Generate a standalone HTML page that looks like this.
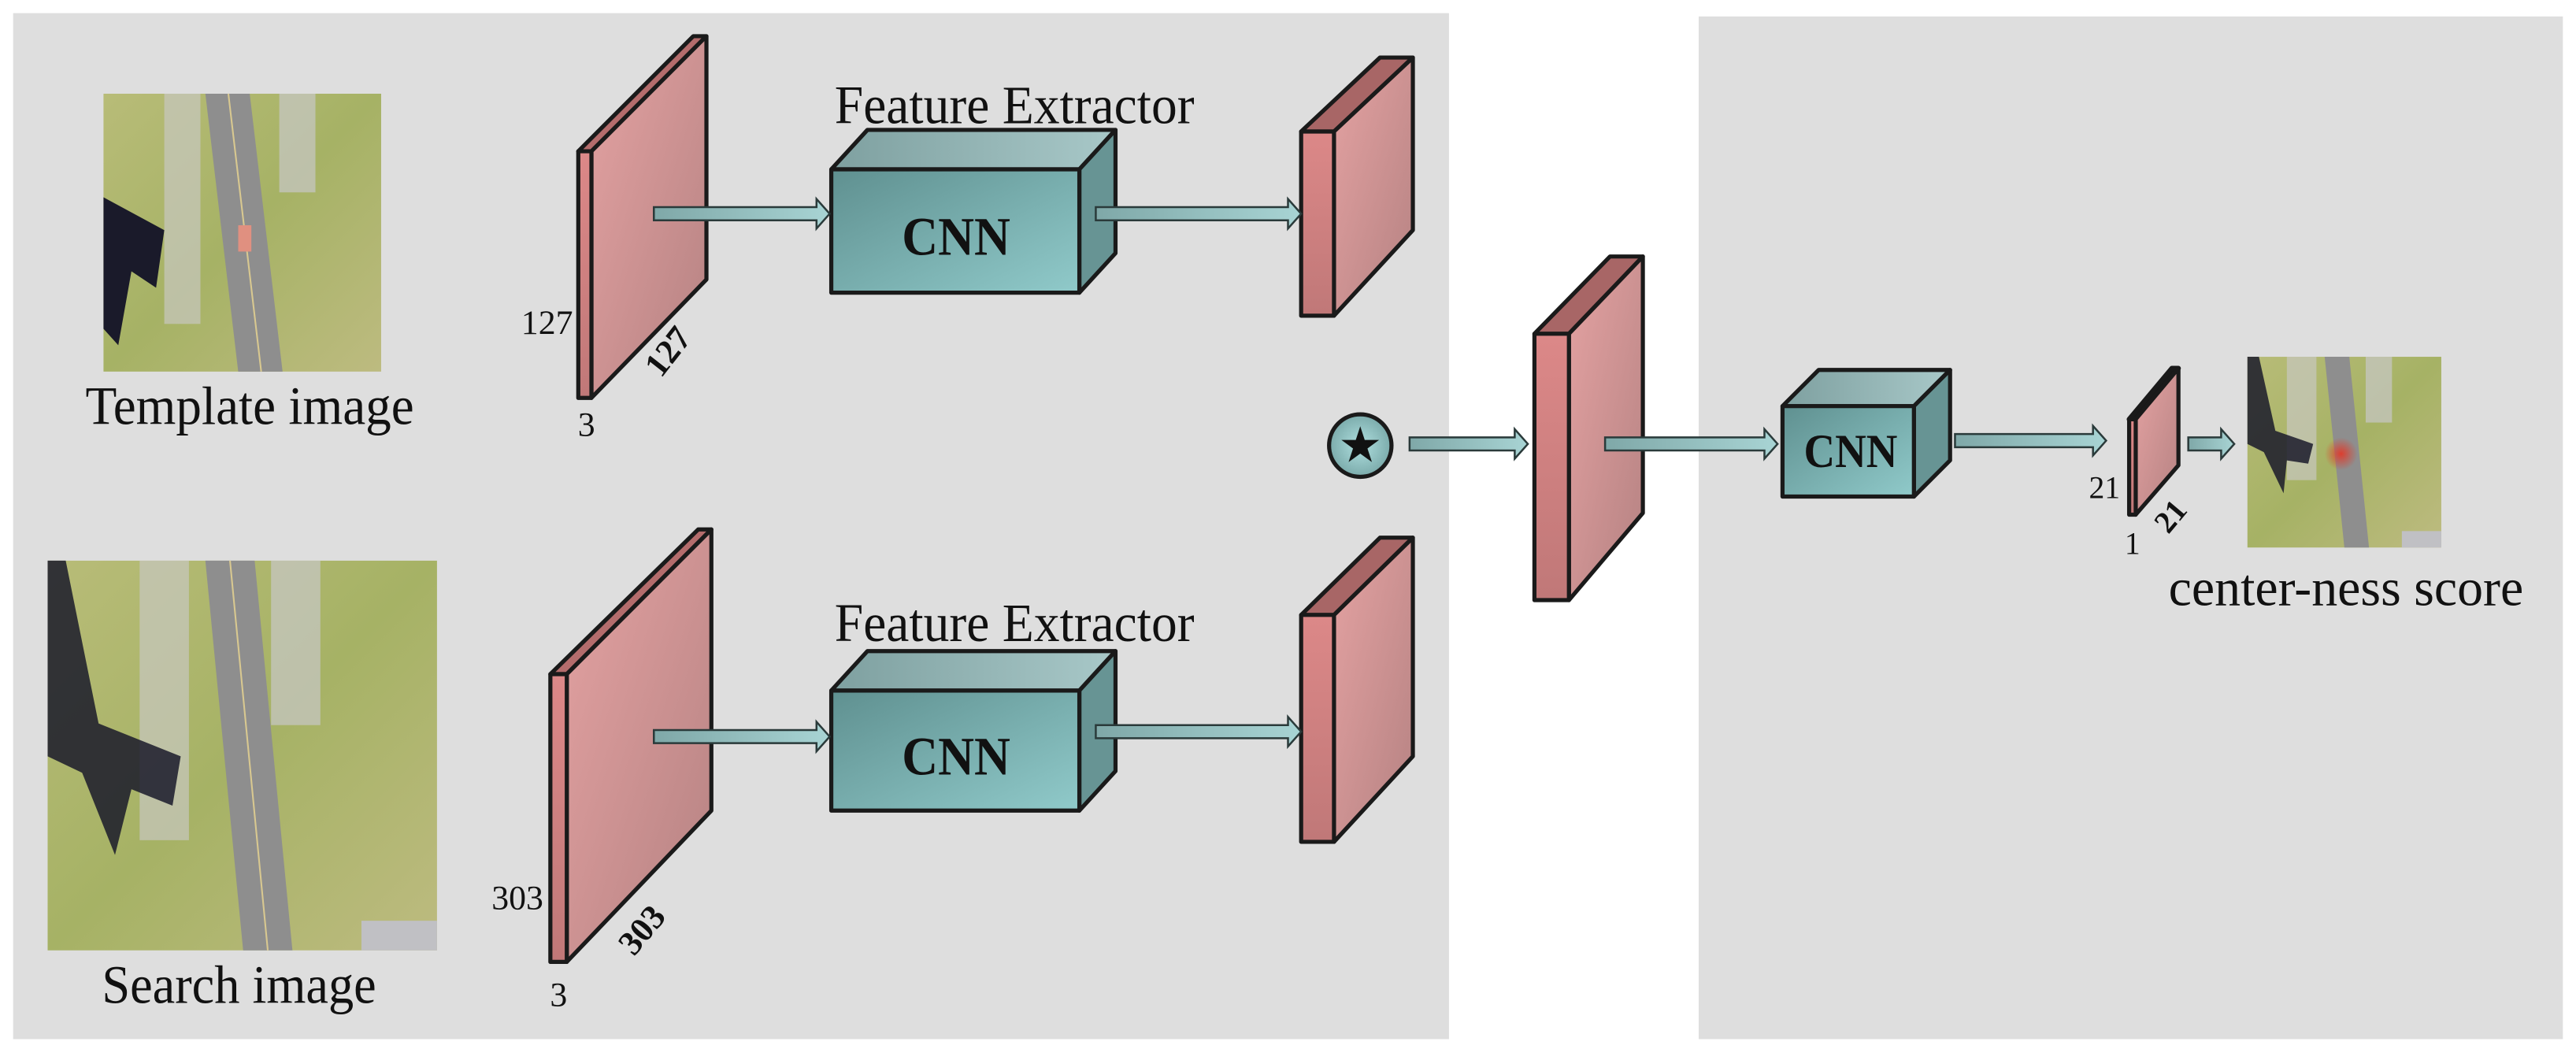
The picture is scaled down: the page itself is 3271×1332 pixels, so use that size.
<!DOCTYPE html>
<html><head><meta charset="utf-8"><style>
html,body{margin:0;padding:0;background:#fff;}
svg{display:block;}
text{font-family:"Liberation Serif",serif;fill:#111;}
</style></head><body>
<svg width="3271" height="1332" viewBox="0 0 1568 638" preserveAspectRatio="none" xmlns="http://www.w3.org/2000/svg">
<defs>
<linearGradient id="face" x1="0" y1="0" x2="1" y2="1"><stop offset="0" stop-color="#e4a2a2"/><stop offset="1" stop-color="#b58282"/></linearGradient>
<linearGradient id="front" x1="0" y1="0" x2="0" y2="1"><stop offset="0" stop-color="#dc8888"/><stop offset="1" stop-color="#c07878"/></linearGradient>
<linearGradient id="cnnf" x1="0" y1="0" x2="1" y2="1"><stop offset="0" stop-color="#5f9090"/><stop offset="1" stop-color="#90caca"/></linearGradient>
<linearGradient id="cnnt" x1="0" y1="0" x2="1" y2="0"><stop offset="0" stop-color="#7ea0a0"/><stop offset="1" stop-color="#a8c8c8"/></linearGradient>
<linearGradient id="arr" x1="0" y1="0" x2="1" y2="0"><stop offset="0" stop-color="#7fa8a8"/><stop offset="1" stop-color="#a8d4d4"/></linearGradient>
<radialGradient id="star" cx="0.5" cy="0.5" r="0.6"><stop offset="0" stop-color="#b0e0e0"/><stop offset="1" stop-color="#70a0a0"/></radialGradient>
<radialGradient id="blob"><stop offset="0" stop-color="#e03a2a" stop-opacity="0.95"/><stop offset="1" stop-color="#e03a2a" stop-opacity="0"/></radialGradient>
<linearGradient id="grass" x1="0" y1="0" x2="1" y2="1"><stop offset="0" stop-color="#b8bc78"/><stop offset="0.5" stop-color="#a6b265"/><stop offset="1" stop-color="#bdbb80"/></linearGradient>
</defs>
<rect x="8" y="8" width="874" height="624" fill="#dedede"/>
<rect x="1034" y="10" width="526" height="622" fill="#dedede"/>

<g>
<rect x="63" y="57" width="169" height="169" fill="url(#grass)"/>
<rect x="100" y="57" width="22" height="140" fill="#c8c8c0" opacity="0.7"/>
<rect x="170" y="57" width="22" height="60" fill="#c8c8c8" opacity="0.7"/>
<polygon points="125,57 152,57 172,226 145,226" fill="#8e8e8e"/>
<line x1="139" y1="57" x2="159" y2="226" stroke="#d8c890" stroke-width="1"/>
<polygon points="63,120 100,140 95,175 80,165 72,210 63,200" fill="#1a1a2a"/>
<rect x="145" y="137" width="8" height="16" fill="#e09080"/>
</g>
<text x="52" y="258" font-size="33" textLength="200" lengthAdjust="spacingAndGlyphs">Template image</text>

<g>
<rect x="29" y="341" width="237" height="237" fill="url(#grass)"/>
<rect x="85" y="341" width="30" height="170" fill="#c8c8c0" opacity="0.7"/>
<rect x="165" y="341" width="30" height="100" fill="#c8c8c8" opacity="0.7"/>
<polygon points="125,341 155,341 178,578 148,578" fill="#8e8e8e"/>
<line x1="140" y1="341" x2="163" y2="578" stroke="#d8c890" stroke-width="1"/>
<polygon points="29,341 40,341 60,440 110,460 105,490 80,480 70,520 50,470 29,460" fill="#1a1a2a" opacity="0.85"/>
<rect x="220" y="560" width="46" height="18" fill="#c0c0c4"/>
</g>
<text x="62" y="610" font-size="33" textLength="167" lengthAdjust="spacingAndGlyphs">Search image</text>

<g stroke="#1a1a1a" stroke-width="2.5" stroke-linejoin="round">
<polygon points="352,92 422,22 430,22 360,92" fill="#b46c6c"/>
<polygon points="360,92 430,22 430,170 360,242" fill="url(#face)"/>
<rect x="352" y="92" width="8" height="150" fill="url(#front)"/>
<polygon points="335,410 425,322 433,322 345,410" fill="#b46c6c"/>
<polygon points="345,410 433,322 433,493 345,585" fill="url(#face)"/>
<rect x="335" y="410" width="10" height="175" fill="url(#front)"/>

<polygon points="506,103 528,79 679,79 657,103" fill="url(#cnnt)"/>
<polygon points="657,103 679,79 679,154 657,178" fill="#679494"/>
<rect x="506" y="103" width="151" height="75" fill="url(#cnnf)"/>
<polygon points="506,420 528,396 679,396 657,420" fill="url(#cnnt)"/>
<polygon points="657,420 679,396 679,469 657,493" fill="#679494"/>
<rect x="506" y="420" width="151" height="73" fill="url(#cnnf)"/>

<polygon points="792,80 840,35 860,35 812,80" fill="#a86666"/>
<polygon points="812,80 860,35 860,140 812,192" fill="url(#face)"/>
<rect x="792" y="80" width="20" height="112" fill="url(#front)"/>
<polygon points="792,374 840,327 860,327 812,374" fill="#a86666"/>
<polygon points="812,374 860,327 860,460 812,512" fill="url(#face)"/>
<rect x="792" y="374" width="20" height="138" fill="url(#front)"/>

<polygon points="934,203 980,156 1000,156 955,203" fill="#a86666"/>
<polygon points="955,203 1000,156 1000,312 955,365" fill="url(#face)"/>
<rect x="934" y="203" width="21" height="162" fill="url(#front)"/>

<polygon points="1085,247 1107,225 1187,225 1165,247" fill="url(#cnnt)"/>
<polygon points="1165,247 1187,225 1187,280 1165,302" fill="#679494"/>
<rect x="1085" y="247" width="80" height="55" fill="url(#cnnf)"/>

<polygon points="1296,255 1322,224 1326,224 1300,255" fill="#111" stroke-width="3"/>
<polygon points="1300,255 1326,224 1326,283 1300,313" fill="url(#face)"/>
<rect x="1296" y="255" width="4" height="58" fill="url(#front)"/>

<ellipse cx="828" cy="271" rx="19" ry="19" fill="url(#star)"/>
</g>
<text x="828" y="281" font-size="30" text-anchor="middle" font-family="DejaVu Sans, sans-serif">★</text>

<g stroke="#2a3a3a" stroke-width="1.2" fill="url(#arr)">
<polygon points="398,126 497,126 497,121 505,130 497,139 497,134 398,134"/>
<polygon points="398,444 497,444 497,439 505,448 497,457 497,452 398,452"/>
<polygon points="667,126 784,126 784,121 792,130 784,139 784,134 667,134"/>
<polygon points="667,441 784,441 784,436 792,445 784,454 784,449 667,449"/>
<polygon points="858,266 922,266 922,261 930,270 922,279 922,274 858,274"/>
<polygon points="977,266 1074,266 1074,261 1082,270 1074,279 1074,274 977,274"/>
<polygon points="1190,264 1274,264 1274,259 1282,268 1274,277 1274,272 1190,272"/>
<polygon points="1332,266 1352,266 1352,261 1360,270 1352,279 1352,274 1332,274"/>
</g>

<g>
<rect x="1368" y="217" width="118" height="116" fill="url(#grass)"/>
<rect x="1392" y="217" width="18" height="75" fill="#c8c8c0" opacity="0.7"/>
<rect x="1440" y="217" width="16" height="40" fill="#c8c8c8" opacity="0.7"/>
<polygon points="1415,217 1430,217 1442,333 1427,333" fill="#8e8e8e"/>
<polygon points="1368,217 1375,217 1385,262 1408,270 1405,282 1392,280 1390,300 1378,275 1368,270" fill="#1a1a2a" opacity="0.85"/>
<circle cx="1425" cy="276" r="10" fill="url(#blob)"/>
<rect x="1462" y="323" width="24" height="10" fill="#c0c0c4"/>
</g>

<text x="508" y="75" font-size="33" textLength="219" lengthAdjust="spacingAndGlyphs">Feature Extractor</text>
<text x="508" y="390" font-size="33" textLength="219" lengthAdjust="spacingAndGlyphs">Feature Extractor</text>
<text x="549" y="155" font-size="33" font-weight="bold" textLength="66" lengthAdjust="spacingAndGlyphs">CNN</text>
<text x="549" y="471" font-size="33" font-weight="bold" textLength="66" lengthAdjust="spacingAndGlyphs">CNN</text>
<text x="1098" y="284" font-size="29" font-weight="bold" textLength="57" lengthAdjust="spacingAndGlyphs">CNN</text>
<text x="1320" y="368" font-size="32" textLength="216" lengthAdjust="spacingAndGlyphs">center-ness score</text>

<text x="333" y="203" font-size="21" text-anchor="middle">127</text>
<text x="357" y="265" font-size="21" text-anchor="middle">3</text>
<text transform="translate(412,218) rotate(-52)" font-size="21" font-weight="bold" text-anchor="middle">127</text>
<text x="315" y="553" font-size="21" text-anchor="middle">303</text>
<text x="340" y="612" font-size="21" text-anchor="middle">3</text>
<text transform="translate(396,570) rotate(-50)" font-size="21" font-weight="bold" text-anchor="middle">303</text>
<text x="1281" y="303" font-size="19" text-anchor="middle">21</text>
<text x="1298" y="337" font-size="19" text-anchor="middle">1</text>
<text transform="translate(1326,318) rotate(-50)" font-size="19" font-weight="bold" text-anchor="middle">21</text>
</svg>
</body></html>
